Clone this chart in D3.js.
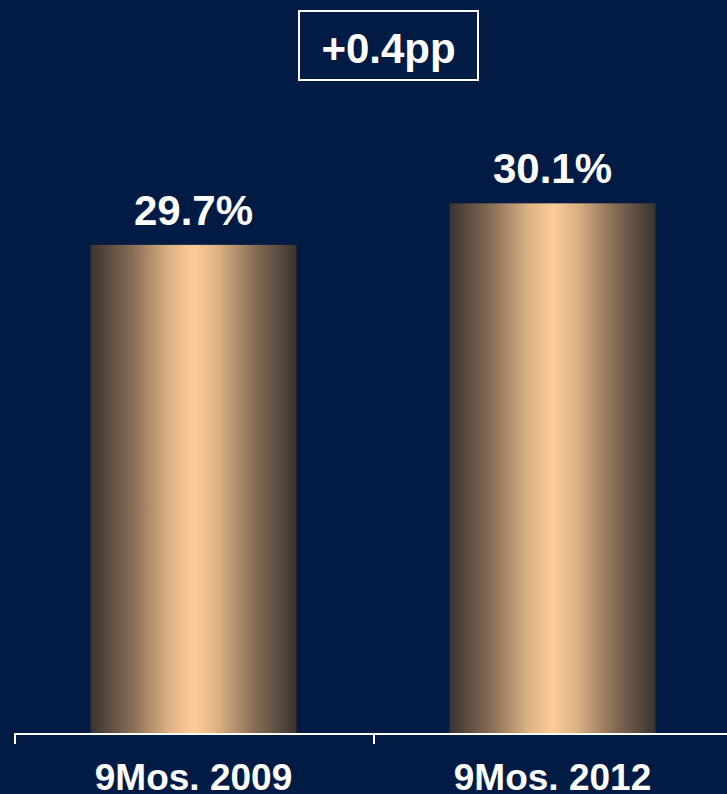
<!DOCTYPE html>
<html>
<head>
<meta charset="utf-8">
<script src="https://cdn.jsdelivr.net/npm/d3@7"></script>
<style>
  html, body { margin: 0; padding: 0; background: #011b45; }
  svg { display: block; }
  text { font-family: "Liberation Sans", Arial, sans-serif; font-weight: bold; fill: #ffffff; }
</style>
</head>
<body>
<script>
// Margin of EBITDA, nine-month periods
const categories = ["9Mos. 2009", "9Mos. 2012"];
const values = [29.7, 30.1];
const valueLabels = ["29.7%", "30.1%"];
const changeLabel = "+0.4pp";

const W = 727, H = 794;
const baseY = 733;

const svg = d3.select("body").append("svg")
  .attr("width", W).attr("height", H);

svg.append("rect").attr("width", W).attr("height", H).attr("fill", "#011b45");

// Cylinder-like horizontal shading for the bars
const shadeStops = [
  [0, "#39332f"], [0.2, "#866c55"], [0.38, "#dcb184"], [0.5, "#fecb98"],
  [0.62, "#dcb184"], [0.8, "#866c55"], [1, "#39332f"]
];
svg.append("defs").append("linearGradient")
  .attr("id", "barShade").attr("x1", "0%").attr("x2", "100%").attr("y1", "0%").attr("y2", "0%")
  .selectAll("stop")
  .data(shadeStops)
  .join("stop")
  .attr("offset", d => d[0])
  .attr("stop-color", d => d[1]);

const pad = 0.426;
const x = d3.scaleBand()
  .domain(categories)
  .range([14, 732])
  .paddingInner(pad)
  .paddingOuter(pad / 2);

const y = d3.scaleLinear().domain([25, 32]).range([baseY, 6]);

// Bars
svg.selectAll("rect.bar")
  .data(values)
  .join("rect")
  .attr("class", "bar")
  .attr("x", (d, i) => x(categories[i]))
  .attr("width", x.bandwidth())
  .attr("y", d => y(d))
  .attr("height", d => baseY - y(d))
  .attr("fill", "url(#barShade)");

// Value labels
svg.selectAll("text.val")
  .data(values)
  .join("text")
  .attr("class", "val")
  .attr("x", (d, i) => x(categories[i]) + x.bandwidth() / 2)
  .attr("y", d => y(d) - 20)
  .attr("text-anchor", "middle")
  .attr("font-size", 42)
  .text((d, i) => valueLabels[i]);

// Category axis: baseline with ticks at band boundaries
const step = x.step();
const bandStarts = categories.map(c => x(c) - x.paddingInner() * step / 2);
const boundaries = bandStarts.concat([bandStarts[bandStarts.length - 1] + step]);

svg.append("line")
  .attr("x1", boundaries[0]).attr("x2", boundaries[boundaries.length - 1])
  .attr("y1", baseY + 1).attr("y2", baseY + 1)
  .attr("stroke", "#ffffff").attr("stroke-width", 2);

svg.selectAll("line.tick")
  .data(boundaries)
  .join("line")
  .attr("class", "tick")
  .attr("x1", d => d + 1).attr("x2", d => d + 1)
  .attr("y1", baseY).attr("y2", baseY + 11)
  .attr("stroke", "#ffffff").attr("stroke-width", 2);

svg.selectAll("text.cat")
  .data(categories)
  .join("text")
  .attr("class", "cat")
  .attr("x", d => x(d) + x.bandwidth() / 2)
  .attr("y", 790)
  .attr("text-anchor", "middle")
  .attr("font-size", 37)
  .text(d => d);

// Change box
svg.append("rect")
  .attr("x", 299).attr("y", 11)
  .attr("width", 179).attr("height", 69)
  .attr("fill", "none").attr("stroke", "#ffffff").attr("stroke-width", 2);

svg.append("text")
  .attr("x", 388.5).attr("y", 63)
  .attr("text-anchor", "middle")
  .attr("font-size", 42)
  .text(changeLabel);
</script>
</body>
</html>
